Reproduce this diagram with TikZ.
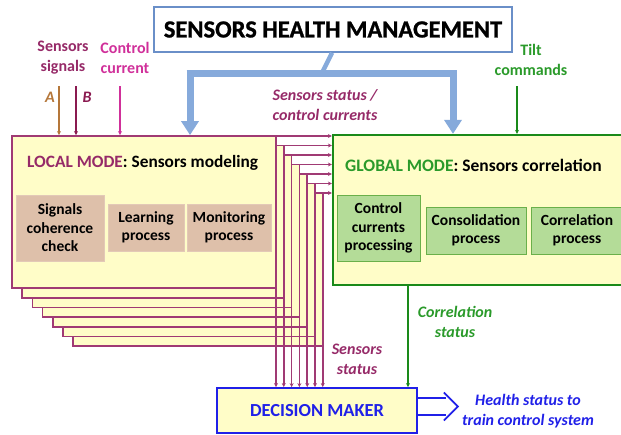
\documentclass[tikz,border=0pt]{standalone}
\usepackage{fontspec}
\setmainfont{Carlito}
\newfontfamily\heavyfont[FakeBold=1]{Carlito Bold}
\usetikzlibrary{arrows.meta,calc}
\definecolor{lyellow}{HTML}{FFFDC8}
\definecolor{purp}{HTML}{A03A74}
\definecolor{purptxt}{HTML}{962A68}
\definecolor{tanfill}{HTML}{DEC0AA}
\definecolor{gfill}{HTML}{B4DC98}
\definecolor{gsub}{HTML}{6AB04A}
\definecolor{gline}{HTML}{1A8A1A}
\definecolor{gtxt}{HTML}{2A9A2A}
\definecolor{bluearr}{HTML}{86AADB}
\definecolor{topblue}{HTML}{6A8FC8}
\definecolor{dmblue}{HTML}{2020E8}
\definecolor{brownA}{HTML}{B5773A}
\definecolor{maroonB}{HTML}{8A1A50}
\definecolor{magc}{HTML}{D0309A}
\newcommand\myfs[2]{\fontsize{#1}{#2}\selectfont}
\begin{document}
\begin{tikzpicture}[x=1pt,y=-1pt,
  stackbox/.style={draw=purp, fill=lyellow, line width=1.6pt},
  tanbox/.style={fill=tanfill, draw=tanfill!85!white, inner sep=0, align=center, font=\myfs{15.5}{18.5}\bfseries},
  greenbox/.style={fill=gfill, draw=gsub, line width=0.8pt, inner sep=0, align=center, font=\myfs{15.5}{18.5}\bfseries},
  purpline/.style={draw=purp, line width=1.6pt, -{Stealth[length=4pt,width=4pt]}},
  bluebar/.style={draw=bluearr, line width=7pt},
  bluetip/.style={draw=bluearr, line width=7pt, -{Triangle[length=14pt,width=17pt]}},
  lab/.style={font=\myfs{16}{20}\bfseries\itshape, align=center, inner sep=0},
  inlab/.style={font=\myfs{16}{20}\bfseries, align=center, inner sep=0}]
\useasboundingbox (0,0) rectangle (621,434);

% top box
\node[draw=topblue, line width=1.5pt, fill=white, minimum width=358pt, minimum height=45pt, inner sep=0] (shm) at (333,29.5)
  {\myfs{24.5}{30}\heavyfont SENSORS HEALTH MANAGEMENT};

% stacked local boxes (back to front)
\foreach \k in {6,5,...,1} {
  \draw[stackbox] ({12+10.2*\k},{136+9.5*\k}) rectangle ({276+7.8*\k},{288+9.7*\k});
}
\foreach \k in {0,...,6} {
  \coordinate (tr\k) at ({276+7.8*\k},{136+9.5*\k});
  \coordinate (br\k) at ({276+7.8*\k},{288+9.7*\k});
}
% main local box
\node[draw=purp, fill=lyellow, line width=1.8pt, minimum width=264pt, minimum height=152pt, inner sep=0] (local) at (144,212) {};
\node[anchor=west, inner sep=0] (ltitle) at (27,163) {\myfs{17.3}{20}\bfseries\textcolor{purptxt}{LOCAL MODE}: Sensors modeling};
\node[tanbox, minimum width=88pt, minimum height=66pt] (sig) at (60,228) {Signals\\coherence\\check};
\node[tanbox, minimum width=76pt, minimum height=47pt] (learn) at (146,227.5) {Learning\\process};
\node[tanbox, minimum width=84pt, minimum height=47pt] (monit) at (229,227.5) {Monitoring\\process};

% global box
\node[draw=gline, fill=lyellow, line width=2.2pt, minimum width=292pt, minimum height=150pt, inner sep=0] (global) at (479,210) {};
\node[anchor=west, inner sep=0] (gtitle) at (345,165) {\myfs{17.5}{20}\bfseries\textcolor{gtxt}{GLOBAL MODE}: Sensors correlation};
\node[greenbox, minimum width=83pt, minimum height=66pt] (ccp) at (378.5,228) {Control\\currents\\processing};
\node[greenbox, minimum width=100pt, minimum height=47pt] (cons) at (476,230.5) {Consolidation\\process};
\node[greenbox, minimum width=92pt, minimum height=47pt] (corr) at (577,230.5) {Correlation\\process};

% decision maker
\node[draw=dmblue, fill=lyellow, line width=1.8pt, minimum width=200pt, minimum height=45pt, inner sep=0] (dm) at (317,410.5)
  {\textcolor{dmblue}{\myfs{18.4}{22}\bfseries DECISION MAKER}};

% purple connectors from stacked boxes
\foreach \k in {0,...,6} {
  \draw[purpline] (tr\k) -- (tr\k -| global.west);
  \draw[purpline] (br\k) -- (br\k |- dm.north);
}

% blue arrows from the top box
\coordinate (bl) at (190,73);
\coordinate (brr) at (453,73);
\coordinate (bm) at (322,73);
\draw[draw=bluearr, line width=4.5pt] (shm.south -| 332,0) -- (bm);
\draw[bluebar] ($(bl)+(-3.5,0)$) -- ($(brr)+(3.5,0)$);
\draw[bluetip] (bl) -- (bl |- local.north);
\draw[bluetip] (brr) -- (brr |- global.north);

% input arrows
\node[inlab, text=purptxt] (sslab) at (63,58) {Sensors\\signals};
\node[inlab, text=magc] (cclab) at (125,58) {Control\\current};
\node[inlab, text=gtxt] (tclab) at (531,60) {Tilt\\commands};
\coordinate (aA) at (59,86);
\coordinate (aB) at (76,86);
\coordinate (aC) at (120,86);
\coordinate (aT) at (517,86);
\draw[draw=brownA, line width=1.4pt, -{Stealth[length=4pt,width=4pt]}] (aA) -- (aA |- local.north);
\draw[draw=maroonB, line width=1.4pt, -{Stealth[length=4pt,width=4pt]}] (aB) -- (aB |- local.north);
\draw[draw=magc, line width=1.4pt, -{Stealth[length=4pt,width=4pt]}] (aC) -- (aC |- local.north);
\draw[draw=gline, line width=1.4pt, -{Stealth[length=4pt,width=4pt]}] (aT) -- (aT |- global.north);
\node[lab, text=brownA] (la) at (50,97) {A};
\node[lab, text=maroonB] (lb) at (87,97) {B};

% labels
\node[lab, text=purptxt] (scc) at (325,105) {Sensors status /\\control currents};
\node[lab, text=purptxt] (sst) at (357,359) {Sensors\\status};
\node[lab, text=gtxt] (cst) at (455,322) {Correlation\\status};
\node[lab, text=dmblue] (hst) at (528,411) {Health status to\\train control system};

% correlation status arrow
\coordinate (cs) at (408,0);
\draw[draw=gline, line width=1.6pt, -{Stealth[length=4pt,width=4pt]}] (cs |- global.south) -- (cs |- dm.north);

% health status hollow arrow
\coordinate (h0) at ($(dm.east)+(0,-4)$);
\draw[draw=dmblue, line width=1.8pt] ($(h0)+(0,-8.5)$) -- ($(h0)+(28,-8.5)$);
\draw[draw=dmblue, line width=1.8pt] ($(h0)+(0,8.5)$) -- ($(h0)+(28,8.5)$);
\draw[draw=dmblue, line width=1.8pt, line join=miter] ($(h0)+(26,-14)$) -- ($(h0)+(40,0)$) -- ($(h0)+(26,14)$);
\end{tikzpicture}
\end{document}
